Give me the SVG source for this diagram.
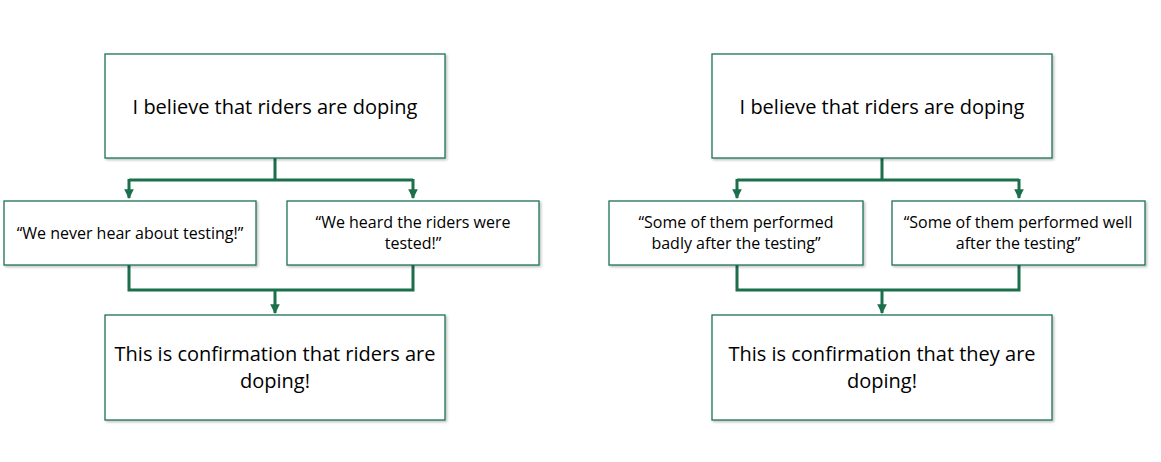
<svg xmlns="http://www.w3.org/2000/svg" width="1161" height="462" viewBox="0 0 1161 462">
<defs>
<filter id="sh" x="-5%" y="-5%" width="110%" height="115%">
<feDropShadow dx="1.5" dy="1.5" stdDeviation="1.2" flood-color="#000" flood-opacity="0.25"/>
</filter>
<marker id="ah" viewBox="0 0 10 10" refX="9" refY="5" markerWidth="3.2" markerHeight="3.2" orient="auto" markerUnits="strokeWidth">
<path d="M0,0 L10,5 L0,10 z" fill="#1b6f4b"/>
</marker>
</defs>
<style>
.box{fill:#fff;stroke:#1b7256;stroke-width:1.3;filter:url(#sh)}
.t{font-family:"Open Sans","Liberation Sans",sans-serif;fill:#000;text-anchor:middle}
.big{font-size:20px}
.sm{font-size:16px}
.c{fill:none;stroke:#1b6f4b;stroke-width:3}
</style>
<rect width="1161" height="462" fill="#fff"/>
<g id="connectors">
<path class="c" d="M275,158 V180 M129,180 H413" />
<path class="c" d="M129,179 V198" marker-end="url(#ah)"/>
<path class="c" d="M413,179 V198" marker-end="url(#ah)"/>
<path class="c" d="M129,265 V290 H413 V265"/>
<path class="c" d="M275,290 V313" marker-end="url(#ah)"/>
<path class="c" d="M882,158 V180 M737,180 H1019" />
<path class="c" d="M737,179 V198" marker-end="url(#ah)"/>
<path class="c" d="M1019,179 V198" marker-end="url(#ah)"/>
<path class="c" d="M737,265 V290 H1019 V265"/>
<path class="c" d="M882,290 V313" marker-end="url(#ah)"/>
</g>
<g id="n1"><rect class="box" x="105" y="54" width="340" height="104"/><text class="t big" x="275" y="114">I believe that riders are doping</text></g>
<g id="n2"><rect class="box" x="4" y="201" width="252" height="64"/><text class="t sm" x="130" y="239">“We never hear about testing!”</text></g>
<g id="n3"><rect class="box" x="287" y="201" width="252" height="64"/><text class="t sm" x="413" y="228">“We heard the riders were</text><text class="t sm" x="413" y="249">tested!”</text></g>
<g id="n4"><rect class="box" x="105" y="315" width="340" height="105"/><text class="t big" x="275" y="361">This is confirmation that riders are</text><text class="t big" x="275" y="388">doping!</text></g>
<g id="n5"><rect class="box" x="712" y="54" width="340" height="104"/><text class="t big" x="882" y="114">I believe that riders are doping</text></g>
<g id="n6"><rect class="box" x="609" y="201" width="254" height="64"/><text class="t sm" x="736" y="228">“Some of them performed</text><text class="t sm" x="736" y="249">badly after the testing”</text></g>
<g id="n7"><rect class="box" x="892" y="201" width="253" height="64"/><text class="t sm" x="1018" y="228">“Some of them performed well</text><text class="t sm" x="1018" y="249">after the testing”</text></g>
<g id="n8"><rect class="box" x="712" y="315" width="340" height="105"/><text class="t big" x="882" y="361">This is confirmation that they are</text><text class="t big" x="882" y="388">doping!</text></g>
</svg>
